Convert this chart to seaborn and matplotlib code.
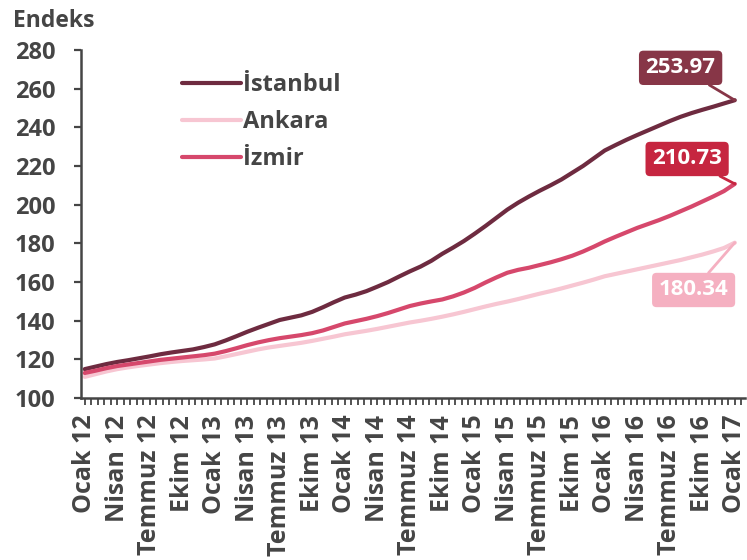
import matplotlib
matplotlib.use("Agg")
import matplotlib.pyplot as plt
from matplotlib.ticker import MultipleLocator
import numpy as np
import pandas as pd
import seaborn as sns

sns.set_theme(style="white")
plt.rcParams["font.family"] = ["Open Sans", "DejaVu Sans"]

# ---- Data (monthly index, Ocak 12 .. Ocak 17) ----
istanbul = [
    115.0, 116.3, 117.6, 118.7, 119.6, 120.6, 121.6, 122.7, 123.6, 124.4, 125.2, 126.4,
    127.8, 129.8, 132.0, 134.3, 136.4, 138.4, 140.4, 141.6, 142.8, 144.6, 147.0, 149.6,
    152.0, 153.5, 155.3, 157.6, 160.0, 162.8, 165.5, 168.0, 171.0, 174.6, 177.8, 181.2,
    185.0, 189.0, 193.2, 197.4, 201.0, 204.2, 207.2, 210.0, 213.0, 216.5, 220.0, 224.0,
    228.0, 230.8, 233.5, 236.0, 238.4, 240.8, 243.2, 245.4, 247.3, 249.0, 250.6, 252.3,
    253.97,
]
ankara = [
    111.0, 112.4, 113.8, 115.0, 115.9, 116.7, 117.4, 118.1, 118.7, 119.2, 119.6, 120.0,
    120.5, 121.6, 122.8, 124.0, 125.2, 126.2, 127.0, 127.8, 128.6, 129.6, 130.7, 131.8,
    133.0, 133.9, 134.8, 135.8, 136.9, 138.0, 139.1, 140.0, 141.0, 142.1, 143.3, 144.6,
    146.0, 147.4, 148.7, 149.9, 151.2, 152.6, 154.0, 155.3, 156.7, 158.2, 159.7, 161.3,
    163.0, 164.2, 165.4, 166.6, 167.8, 169.0, 170.2, 171.4, 172.8, 174.2, 175.8, 177.6,
    180.34,
]
izmir = [
    113.0, 114.2, 115.5, 116.6, 117.4, 118.2, 119.0, 119.8, 120.4, 121.0, 121.6, 122.2,
    123.0, 124.3, 125.8, 127.4, 128.8, 130.0, 131.0, 131.8, 132.6, 133.6, 135.0, 136.8,
    138.6, 139.8, 141.0, 142.4, 144.0, 145.8, 147.6, 148.9, 150.0, 151.0, 152.6, 154.6,
    157.0, 159.8, 162.4, 164.8, 166.3, 167.4, 168.8, 170.2, 171.8, 173.6, 175.8, 178.3,
    181.0, 183.4, 185.7, 188.0, 190.0, 192.0, 194.2, 196.6, 199.0, 201.6, 204.2, 207.0,
    210.73,
]
tick_labels = [
    "Ocak 12", "Nisan 12", "Temmuz 12", "Ekim 12",
    "Ocak 13", "Nisan 13", "Temmuz 13", "Ekim 13",
    "Ocak 14", "Nisan 14", "Temmuz 14", "Ekim 14",
    "Ocak 15", "Nisan 15", "Temmuz 15", "Ekim 15",
    "Ocak 16", "Nisan 16", "Temmuz 16", "Ekim 16",
    "Ocak 17",
]
series_names = ["İstanbul", "Ankara", "İzmir"]
colors = {"İstanbul": "#6e2b40", "Ankara": "#f7c6d2", "İzmir": "#d6486c"}
box_colors = {"İstanbul": "#873647", "Ankara": "#f5b0c1", "İzmir": "#c62640"}

TEXT = "#454545"

months = np.arange(len(istanbul))
df = pd.concat([
    pd.DataFrame({"month": months, "value": vals, "city": name})
    for name, vals in zip(series_names, [istanbul, ankara, izmir])
])

fig = plt.figure(figsize=(7.47, 5.6), dpi=100)
ax = fig.add_axes([0.108, 0.289, 0.889, 0.622])

sns.lineplot(data=df, x="month", y="value", hue="city", hue_order=series_names,
             palette=colors, linewidth=3.0, ax=ax)

ax.set_xlim(-0.37, 60.92)
ax.set_ylim(100, 280)
ax.set_yticks(range(100, 281, 20))
ax.set_xticks(range(0, 61, 3))
ax.set_xticklabels(tick_labels, rotation=90)
ax.xaxis.set_minor_locator(MultipleLocator(0.6))
ax.set_xlabel("")
ax.set_ylabel("")

for s in ["top", "right"]:
    ax.spines[s].set_visible(False)
for s in ["left", "bottom"]:
    ax.spines[s].set_color(TEXT)
    ax.spines[s].set_linewidth(1.8)

ax.tick_params(axis="y", which="major", left=True, length=5, width=1.6, color=TEXT,
               labelsize=17, labelcolor=TEXT, pad=13)
ax.tick_params(axis="x", which="both", bottom=True, length=5, width=1.3, color=TEXT,
               labelsize=18, labelcolor=TEXT, pad=7)
for lab in ax.get_xticklabels() + ax.get_yticklabels():
    lab.set_fontweight("bold")

leg = ax.legend(loc="upper left", bbox_to_anchor=(0.12, 0.995), frameon=False,
                handlelength=2.5, handletextpad=0.1, labelspacing=0.55,
                prop={"weight": "bold", "size": 17})
for t in leg.get_texts():
    t.set_color(TEXT)

fig.text(0.018, 0.952, "Endeks", fontsize=16.5, fontweight="bold", color=TEXT)

# end-value label boxes
label_pos = {"İstanbul": (55.0, 270.7), "İzmir": (55.6, 223.6), "Ankara": (56.2, 155.9)}
for name, vals in zip(series_names, [istanbul, ankara, izmir]):
    tx, ty = label_pos[name]
    ax.annotate(f"{vals[-1]:.2f}", xy=(months[-1], vals[-1]), xytext=(tx, ty),
                ha="center", va="center", fontsize=16, fontweight="bold", color="white",
                bbox=dict(boxstyle="round,pad=0.3,rounding_size=0.2",
                          fc=box_colors[name], ec="none"),
                arrowprops=dict(arrowstyle="-", color=box_colors[name], lw=2,
                                shrinkA=0, shrinkB=0),
                annotation_clip=False)

fig.savefig("out.png", dpi=100)
